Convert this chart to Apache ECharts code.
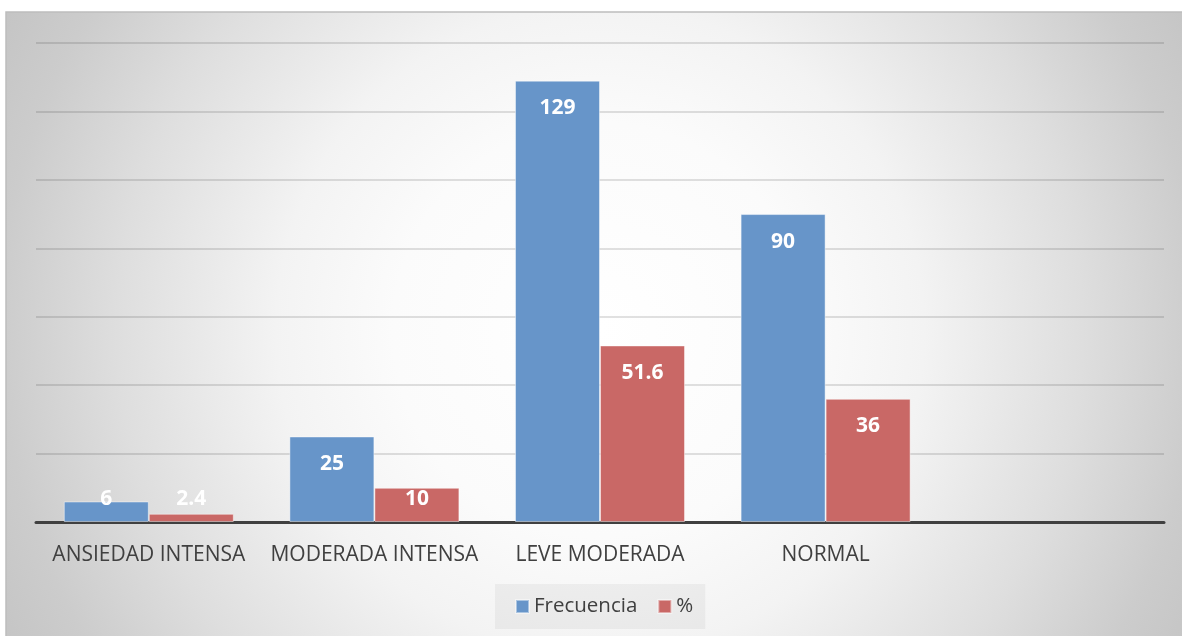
<!DOCTYPE html>
<html>
<head>
<meta charset="utf-8">
<style>
html,body{margin:0;padding:0;background:#ffffff;}
#chart{width:1182px;height:636px;}
</style>
<script src="https://cdn.jsdelivr.net/npm/echarts@6/dist/echarts.min.js"></script>
</head>
<body>
<div id="chart"></div>
<script>
const categories = ['ANSIEDAD INTENSA', 'MODERADA INTENSA', 'LEVE MODERADA', 'NORMAL', ''];
const frecuencia = [6, 25, 129, 90];
const porcentaje = [2.4, 10, 51.6, 36];
const seriesNames = ['Frecuencia', '%'];

const FONT = '"Open Sans", "Liberation Sans", sans-serif';
const Y_MAX = 140;
const PLOT_H = 522 - 43;

function withLabels(values) {
  return values.map(function (v) {
    const h = v / Y_MAX * PLOT_H;
    if (h < 50) {
      return { value: v, label: { position: 'insideBottom', distance: 12 } };
    }
    return { value: v };
  });
}

const chart = echarts.init(document.getElementById('chart'), null, { renderer: 'canvas' });

const labelStyle = {
  show: true,
  position: 'insideTop',
  distance: 17,
  color: '#ffffff',
  fontFamily: FONT,
  fontWeight: 'bold',
  fontSize: 21
};

chart.setOption({
  animation: false,
  backgroundColor: '#ffffff',
  textStyle: { fontFamily: FONT },
  graphic: [
    {
      type: 'rect',
      z: -100,
      silent: true,
      shape: { x: 6, y: 12, width: 1180, height: 630 },
      style: {
        fill: {
          type: 'radial', x: 600, y: 330, r: 690, global: true,
          colorStops: [
            { offset: 0, color: '#ffffff' },
            { offset: 0.3, color: '#fbfbfb' },
            { offset: 0.47, color: '#f3f3f3' },
            { offset: 0.7, color: '#dedede' },
            { offset: 0.87, color: '#cccccc' },
            { offset: 1, color: '#c3c3c3' }
          ]
        },
        stroke: '#bdbdbd',
        lineWidth: 1.5
      }
    }
  ],
  grid: { left: 36, right: 18, top: 43, bottom: 114, containLabel: false },
  legend: {
    data: seriesNames,
    left: 495,
    top: 584,
    padding: [12, 12, 12, 20],
    backgroundColor: 'rgba(0,0,0,0.045)',
    itemWidth: 13,
    itemHeight: 13,
    itemGap: 20,
    icon: 'rect',
    textStyle: { fontFamily: FONT, fontSize: 20.5, color: '#404040' }
  },
  xAxis: {
    type: 'category',
    data: categories,
    axisLine: { show: true, lineStyle: { color: '#404040', width: 3 } },
    axisTick: { show: false },
    axisLabel: { margin: 23, color: '#404040', fontFamily: FONT, fontSize: 21, interval: 0 },
    splitLine: { show: false }
  },
  yAxis: {
    type: 'value',
    min: 0,
    max: Y_MAX,
    interval: 20,
    axisLine: { show: false },
    axisTick: { show: false },
    axisLabel: { show: false },
    splitLine: { show: true, lineStyle: { color: 'rgba(0,0,0,0.16)', width: 1.5 } }
  },
  series: [
    {
      name: seriesNames[0],
      type: 'bar',
      data: withLabels(frecuencia),
      barWidth: 85,
      barGap: '0%',
      itemStyle: { color: '#6795c9', borderColor: 'rgba(255,255,255,0.45)', borderWidth: 1 },
      label: labelStyle
    },
    {
      name: seriesNames[1],
      type: 'bar',
      data: withLabels(porcentaje),
      barWidth: 85,
      barGap: '0%',
      itemStyle: { color: '#c96866', borderColor: 'rgba(255,255,255,0.45)', borderWidth: 1 },
      label: labelStyle
    }
  ]
});
</script>
</body>
</html>
